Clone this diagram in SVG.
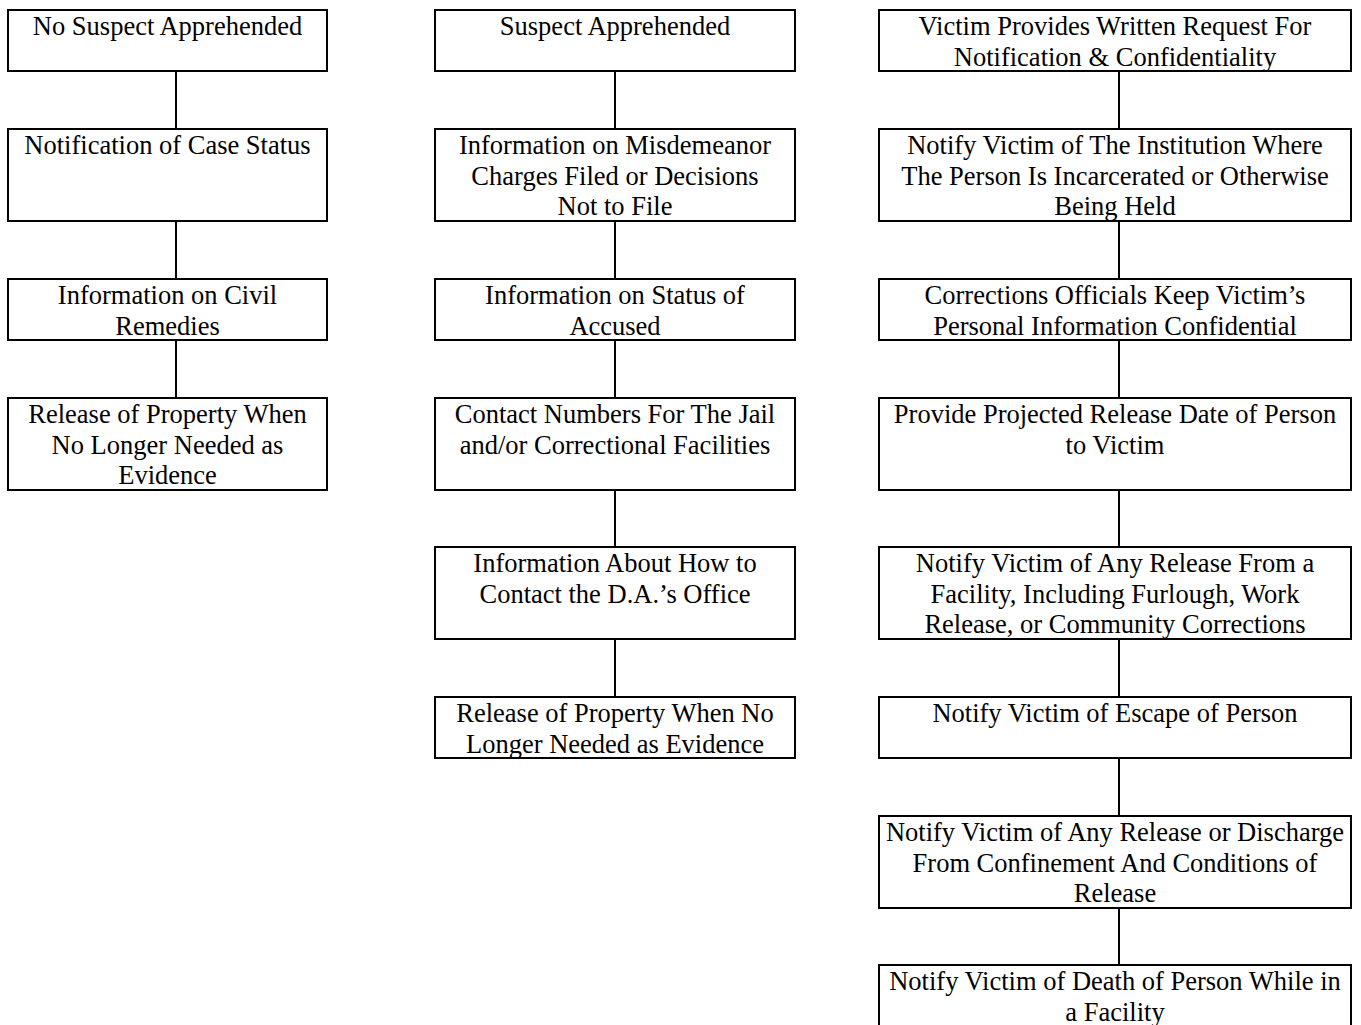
<svg xmlns="http://www.w3.org/2000/svg" width="1361" height="1025" viewBox="0 0 1361 1025">
<style>
.box{fill:#fff;stroke:#000;stroke-width:2}
.t{font-family:"Liberation Serif","Times New Roman",serif;font-size:26.5px;fill:#000;text-anchor:middle}
.c line{stroke:#000;stroke-width:2}
</style>
<rect width="1361" height="1025" fill="#fff"/>
<g class="c" id="connectors">
<line x1="176" y1="71" x2="176" y2="129"/>
<line x1="176" y1="221" x2="176" y2="279"/>
<line x1="176" y1="340" x2="176" y2="398"/>
<line x1="615" y1="71" x2="615" y2="129"/>
<line x1="615" y1="221" x2="615" y2="279"/>
<line x1="615" y1="340" x2="615" y2="398"/>
<line x1="615" y1="490" x2="615" y2="547"/>
<line x1="615" y1="639" x2="615" y2="697"/>
<line x1="1119" y1="71" x2="1119" y2="129"/>
<line x1="1119" y1="221" x2="1119" y2="279"/>
<line x1="1119" y1="340" x2="1119" y2="398"/>
<line x1="1119" y1="490" x2="1119" y2="547"/>
<line x1="1119" y1="639" x2="1119" y2="697"/>
<line x1="1119" y1="758" x2="1119" y2="816"/>
<line x1="1119" y1="908" x2="1119" y2="965"/>
</g>
<g id="n1a"><rect class="box" x="8" y="10" width="319" height="61"/><text class="t" x="167.5" y="34.5">No Suspect Apprehended</text></g>
<g id="n1b"><rect class="box" x="8" y="129" width="319" height="92"/><text class="t" x="167.5" y="153.5">Notification of Case Status</text></g>
<g id="n1c"><rect class="box" x="8" y="279" width="319" height="61"/><text class="t" x="167.5" y="303.5">Information on Civil</text><text class="t" x="167.5" y="334.5">Remedies</text></g>
<g id="n1d"><rect class="box" x="8" y="398" width="319" height="92"/><text class="t" x="167.5" y="422.5">Release of Property When</text><text class="t" x="167.5" y="453.5">No Longer Needed as</text><text class="t" x="167.5" y="484">Evidence</text></g>

<g id="n2a"><rect class="box" x="435" y="10" width="360" height="61"/><text class="t" x="615" y="34.5">Suspect Apprehended</text></g>
<g id="n2b"><rect class="box" x="435" y="129" width="360" height="92"/><text class="t" x="615" y="153.5">Information on Misdemeanor</text><text class="t" x="615" y="184.5">Charges Filed or Decisions</text><text class="t" x="615" y="215">Not to File</text></g>
<g id="n2c"><rect class="box" x="435" y="279" width="360" height="61"/><text class="t" x="615" y="303.5">Information on Status of</text><text class="t" x="615" y="334.5">Accused</text></g>
<g id="n2d"><rect class="box" x="435" y="398" width="360" height="92"/><text class="t" x="615" y="422.5">Contact Numbers For The Jail</text><text class="t" x="615" y="453.5">and/or Correctional Facilities</text></g>
<g id="n2e"><rect class="box" x="435" y="547" width="360" height="92"/><text class="t" x="615" y="571.5">Information About How to</text><text class="t" x="615" y="602.5">Contact the D.A.’s Office</text></g>
<g id="n2f"><rect class="box" x="435" y="697" width="360" height="61"/><text class="t" x="615" y="721.5">Release of Property When No</text><text class="t" x="615" y="752.5">Longer Needed as Evidence</text></g>

<g id="n3a"><rect class="box" x="879" y="10" width="472" height="61"/><text class="t" x="1115" y="34.5">Victim Provides Written Request For</text><text class="t" x="1115" y="65.5">Notification &amp; Confidentiality</text></g>
<g id="n3b"><rect class="box" x="879" y="129" width="472" height="92"/><text class="t" x="1115" y="153.5">Notify Victim of The Institution Where</text><text class="t" x="1115" y="184.5">The Person Is Incarcerated or Otherwise</text><text class="t" x="1115" y="215">Being Held</text></g>
<g id="n3c"><rect class="box" x="879" y="279" width="472" height="61"/><text class="t" x="1115" y="303.5">Corrections Officials Keep Victim’s</text><text class="t" x="1115" y="334.5">Personal Information Confidential</text></g>
<g id="n3d"><rect class="box" x="879" y="398" width="472" height="92"/><text class="t" x="1115" y="422.5">Provide Projected Release Date of Person</text><text class="t" x="1115" y="453.5">to Victim</text></g>
<g id="n3e"><rect class="box" x="879" y="547" width="472" height="92"/><text class="t" x="1115" y="571.5">Notify Victim of Any Release From a</text><text class="t" x="1115" y="602.5">Facility, Including Furlough, Work</text><text class="t" x="1115" y="633">Release, or Community Corrections</text></g>
<g id="n3f"><rect class="box" x="879" y="697" width="472" height="61"/><text class="t" x="1115" y="721.5">Notify Victim of Escape of Person</text></g>
<g id="n3g"><rect class="box" x="879" y="816" width="472" height="92"/><text class="t" x="1115" y="840.5">Notify Victim of Any Release or Discharge</text><text class="t" x="1115" y="871.5">From Confinement And Conditions of</text><text class="t" x="1115" y="902">Release</text></g>
<g id="n3h"><rect class="box" x="879" y="965" width="472" height="80"/><text class="t" x="1115" y="989.5">Notify Victim of Death of Person While in</text><text class="t" x="1115" y="1020.5">a Facility</text></g>
</svg>
